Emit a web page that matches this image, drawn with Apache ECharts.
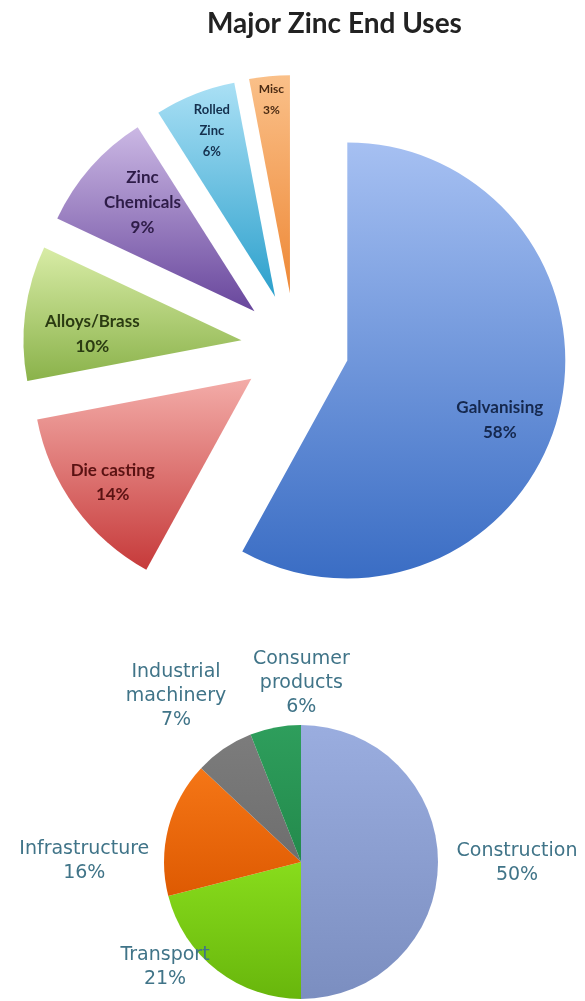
<!DOCTYPE html>
<html>
<head>
<meta charset="utf-8">
<title>Major Zinc End Uses</title>
<script src="https://cdn.jsdelivr.net/npm/echarts@6/dist/echarts.min.js"></script>
<style>
  html, body { margin: 0; padding: 0; background: #ffffff; }
  #chart { width: 585px; height: 1001px; }
</style>
</head>
<body>
<div id="chart"></div>
<script>
// ---- data: end uses of zinc (percent) ----
const endUseNames = ['Galvanising', 'Die casting', 'Alloys/Brass', 'Zinc\nChemicals', 'Rolled\nZinc', 'Misc'];
const endUseValues = [58, 14, 10, 9, 6, 3];

// ---- data: first-use sectors (percent) ----
const sectorNames = ['Construction', 'Transport', 'Infrastructure', 'Industrial\nmachinery', 'Consumer\nproducts'];
const sectorValues = [50, 21, 16, 7, 6];

// ---- styling ----
const endUseGradients = [
  ['#a6c0f2', '#3a6dc4'],
  ['#f3aca8', '#c63a3a'],
  ['#d8eca6', '#8ab24a'],
  ['#cbb8e4', '#68469c'],
  ['#aae0f5', '#2ca0cc'],
  ['#fac089', '#ee8836']
];
const endUseTextColors = ['#15284e', '#5a1212', '#2b3b12', '#2e1c48', '#14304e', '#4a2a12'];
const endUseFontSizes = [17, 17, 17, 17, 13, 12];
const endUseLineHeights = [25, 24, 25, 25, 21, 21];
// label nudges away from the slice mid-radius
const endUseLabelShift = [[44, 32], [-48, 38], [-38, 8], [-28, -35], [-22, -62], [-8, -82]];

const sectorColors = [
  ['#9aaddf', '#7b8ec0'],
  ['#88dc1c', '#68b60c'],
  ['#f57616', '#de5a02'],
  ['#7c7c7c', '#6e6e6e'],
  ['#2e9e5c', '#238a4c']
];
const sectorLabelShift = [[79, 1], [-52, -3], [-84, 33], [-48, -53], [26, -44]];

function vGrad(c) {
  return new echarts.graphic.LinearGradient(0, 0, 0, 1, [
    { offset: 0, color: c[0] },
    { offset: 1, color: c[1] }
  ]);
}

const chart = echarts.init(document.getElementById('chart'), null, { renderer: 'canvas' });

chart.setOption({
  backgroundColor: '#ffffff',
  animation: false,
  title: {
    text: 'Major Zinc End Uses',
    left: 202,
    top: 5,
    textStyle: {
      fontFamily: 'Lato',
      fontWeight: 'bold',
      fontSize: 28,
      color: '#222222'
    }
  },
  series: [
    {
      name: 'End uses',
      type: 'pie',
      center: [295, 347],
      radius: 218,
      startAngle: 90,
      clockwise: true,
      selectedMode: 'multiple',
      selectedOffset: 54,
      avoidLabelOverlap: false,
      emphasis: { disabled: true },
      label: {
        show: true,
        position: 'inside',
        fontFamily: 'Lato',
        fontWeight: 'bold',
        formatter: p => p.name + '\n' + p.value + '%'
      },
      labelLine: { show: false },
      labelLayout: p => ({ dx: endUseLabelShift[p.dataIndex][0], dy: endUseLabelShift[p.dataIndex][1] }),
      data: endUseNames.map((n, i) => ({
        name: n,
        value: endUseValues[i],
        selected: true,
        itemStyle: { color: vGrad(endUseGradients[i]) },
        label: {
          color: endUseTextColors[i],
          fontSize: endUseFontSizes[i],
          lineHeight: endUseLineHeights[i]
        }
      }))
    },
    {
      name: 'Sectors',
      type: 'pie',
      center: [301, 862],
      radius: 137,
      startAngle: 90,
      clockwise: true,
      avoidLabelOverlap: false,
      emphasis: { disabled: true },
      label: {
        show: true,
        position: 'outside',
        distanceToLabelLine: 0,
        fontFamily: 'DejaVu Sans',
        fontSize: 19,
        lineHeight: 24,
        color: '#407488',
        formatter: p => p.name + '\n' + p.value + '%'
      },
      labelLine: { show: false, length: 0, length2: 0 },
      labelLayout: p => ({
        align: 'center',
        dx: sectorLabelShift[p.dataIndex][0],
        dy: sectorLabelShift[p.dataIndex][1]
      }),
      data: sectorNames.map((n, i) => ({
        name: n,
        value: sectorValues[i],
        itemStyle: { color: vGrad(sectorColors[i]) }
      }))
    }
  ]
});
</script>
</body>
</html>
